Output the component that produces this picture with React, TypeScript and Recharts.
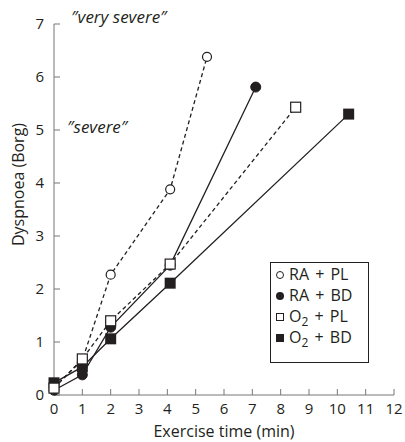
import React from 'react';
import { LineChart, Line, XAxis, YAxis } from 'recharts';

// Exercise time (min) per stage, one list per series
const raPlTime = [0, 1, 2, 4.1, 5.4];
const raPlScore = [0.14, 0.66, 2.27, 3.88, 6.38];
const raBdTime = [0, 1, 2, 4.1, 7.12];
const raBdScore = [0.09, 0.38, 1.28, 2.45, 5.81];
const o2PlTime = [0, 1, 2, 4.1, 8.53];
const o2PlScore = [0.13, 0.68, 1.4, 2.47, 5.43];
const o2BdTime = [0, 1, 2, 4.1, 10.4];
const o2BdScore = [0.23, 0.53, 1.06, 2.11, 5.3];

const xTicks = [0, 1, 2, 3, 4, 5, 6, 7, 8, 9, 10, 11, 12];
const yTicks = [0, 1, 2, 3, 4, 5, 6, 7];

const INK = '#231f20';
const AXIS = '#777';
const FONT = '"Open Sans", sans-serif';

const toRows = (xs: number[], ys: number[]) => xs.map((t, i) => ({ t, v: ys[i] }));

const OpenCircle = (p: any) => <circle cx={p.cx} cy={p.cy} r={4.5} fill="#fff" stroke={INK} strokeWidth={1.2} />;
const FilledCircle = (p: any) => <circle cx={p.cx} cy={p.cy} r={5} fill={INK} stroke={INK} />;
const OpenSquare = (p: any) => <rect x={p.cx - 5} y={p.cy - 5} width={10} height={10} fill="#fff" stroke={INK} strokeWidth={1.2} />;
const FilledSquare = (p: any) => <rect x={p.cx - 5.5} y={p.cy - 5.5} width={11} height={11} fill={INK} />;

const legendItems = [
  { kind: 'oc', label: <>RA + PL</> },
  { kind: 'fc', label: <>RA + BD</> },
  { kind: 'os', label: <>O<sub style={{ fontSize: 12, lineHeight: 0 }}>2</sub> + PL</> },
  { kind: 'fs', label: <>O<sub style={{ fontSize: 12, lineHeight: 0 }}>2</sub> + BD</> },
];

const LegendIcon = ({ kind }: { kind: string }) => (
  <svg width={10} height={10} style={{ marginRight: 4 }}>
    {kind === 'oc' && <circle cx={5} cy={5} r={3.5} fill="#fff" stroke={INK} />}
    {kind === 'fc' && <circle cx={5} cy={5} r={4} fill={INK} />}
    {kind === 'os' && <rect x={1.5} y={1.5} width={7} height={7} fill="#fff" stroke={INK} />}
    {kind === 'fs' && <rect x={1} y={1} width={8} height={8} fill={INK} />}
  </svg>
);

const BoxLegend = () => (
  <div style={{ position: 'absolute', left: 270, top: 262, boxSizing: 'border-box', border: `1px solid ${INK}`, width: 99, height: 101, padding: '1px 0 0 4px', background: '#fff', fontFamily: FONT, fontSize: 16, wordSpacing: 2, color: INK }}>
    {legendItems.map((it) => (
      <div key={it.kind} style={{ display: 'flex', alignItems: 'center', height: 21, lineHeight: '21px' }}>
        <LegendIcon kind={it.kind} />
        <span>{it.label}</span>
      </div>
    ))}
  </div>
);

const noteStyle: React.CSSProperties = { position: 'absolute', fontFamily: FONT, fontStyle: 'italic', fontSize: 17, color: INK, whiteSpace: 'nowrap' };

const App: React.FC = () => {
  return (
    <div style={{ position: 'absolute', left: 0, top: 0, width: 405, height: 442, background: '#fff' }}>
      <LineChart width={405} height={442} margin={{ top: 24, right: 11, left: 0, bottom: 0 }}>
        <XAxis
          type="number"
          dataKey="t"
          domain={[0, 12]}
          ticks={xTicks}
          interval={0}
          height={47}
          stroke={AXIS}
          tickSize={-6}
          tickMargin={14}
          tick={{ fill: INK, fontSize: 15, fontFamily: FONT }}
          allowDuplicatedCategory={false}
          label={{ value: 'Exercise time (min)', position: 'insideBottom', offset: 5, fill: INK, fontSize: 16, fontFamily: FONT }}
        />
        <YAxis
          type="number"
          domain={[0, 7]}
          ticks={yTicks}
          interval={0}
          width={54}
          stroke={AXIS}
          tickSize={-6}
          tickMargin={16}
          tick={{ fill: INK, fontSize: 15, fontFamily: FONT }}
          label={{ value: 'Dyspnoea (Borg)', angle: -90, position: 'insideLeft', offset: 18, dy: -25, fill: INK, fontSize: 16, fontFamily: FONT, style: { textAnchor: 'middle' } }}
        />
        {/* drawing order follows which markers sit on top in the original */}
        <Line data={toRows(raPlTime, raPlScore)} dataKey="v" name="RA + PL" stroke={INK} strokeWidth={1.3} strokeDasharray="4 3" dot={<OpenCircle />} isAnimationActive={false} />
        <Line data={toRows(raBdTime, raBdScore)} dataKey="v" name="RA + BD" stroke={INK} strokeWidth={1.3} dot={<FilledCircle />} isAnimationActive={false} />
        <Line data={toRows(o2BdTime, o2BdScore)} dataKey="v" name="O2 + BD" stroke={INK} strokeWidth={1.3} dot={<FilledSquare />} isAnimationActive={false} />
        <Line data={toRows(o2PlTime, o2PlScore)} dataKey="v" name="O2 + PL" stroke={INK} strokeWidth={1.3} strokeDasharray="4 3" dot={<OpenSquare />} isAnimationActive={false} />
      </LineChart>
      <BoxLegend />
      <div style={{ ...noteStyle, left: 71, top: 5 }}>″very severe″</div>
      <div style={{ ...noteStyle, left: 67, top: 115 }}>″severe″</div>
    </div>
  );
};

export default App;
